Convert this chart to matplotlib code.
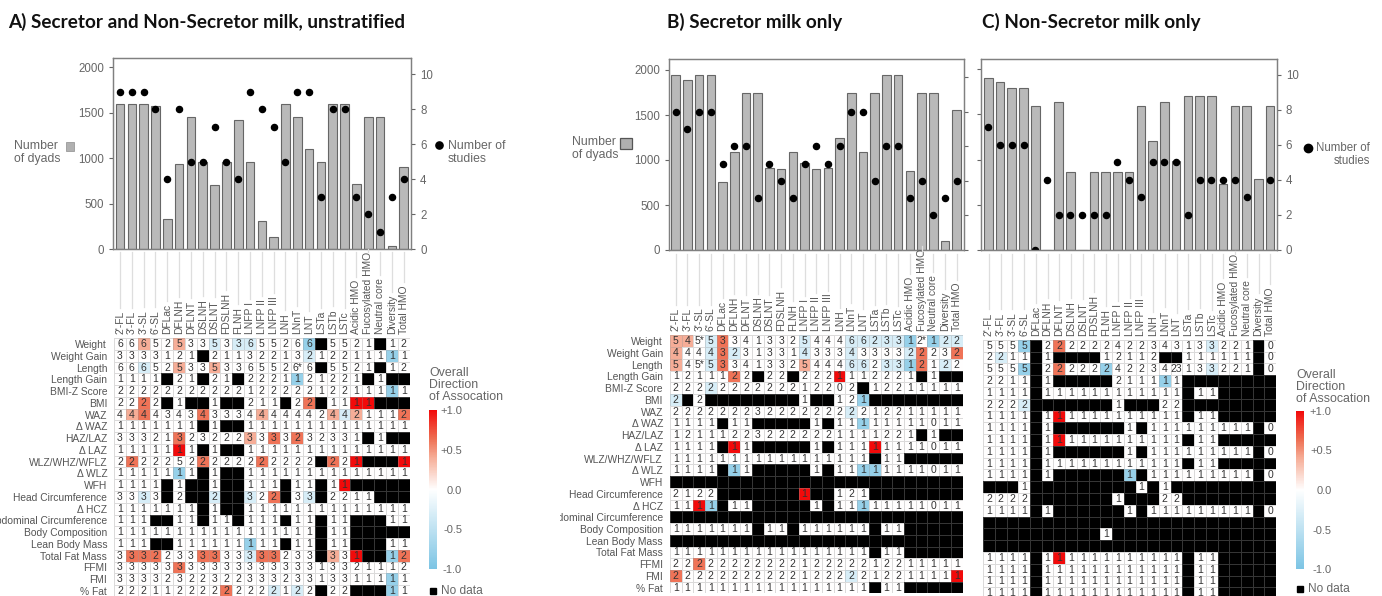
import numpy as np
import matplotlib
matplotlib.use('Agg')
import matplotlib.pyplot as plt
from matplotlib.colors import LinearSegmentedColormap, Normalize
from matplotlib.cm import ScalarMappable
from matplotlib.patches import Rectangle
from matplotlib.transforms import Bbox

plt.rcParams['font.family'] = ['Liberation Sans', 'DejaVu Sans']

HMOS = ["2'-FL", "3'-FL", "3'-SL", "6'-SL", 'DFLac', 'DFLNH', 'DFLNT', 'DSLNH', 'DSLNT',
        'FDSLNH', 'FLNH', 'LNFP I', 'LNFP II', 'LNFP III', 'LNH', 'LNnT', 'LNT', 'LSTa',
        'LSTb', 'LSTc', 'Acidic HMO', 'Fucosylated HMO', 'Neutral core', 'Diversity', 'Total HMO']
OUTCOMES = ['Weight', 'Weight Gain', 'Length', 'Length Gain', 'BMI-Z Score', 'BMI', 'WAZ', 'Δ WAZ',
            'HAZ/LAZ', 'Δ LAZ', 'WLZ/WHZ/WFLZ', 'Δ WLZ', 'WFH', 'Head Circumference', 'Δ HCZ',
            'Abdominal Circumference', 'Body Composition', 'Lean Body Mass', 'Total Fat Mass',
            'FFMI', 'FMI', '% Fat']

DYADS_A = [1600, 1600, 1600, 1571, 330, 934, 1450, 956, 700, 956, 1418, 956, 304, 136, 1600,
           1450, 1099, 963, 1600, 1600, 711, 1450, 1450, 29, 901]
STUDIES_A = [9, 9, 9, 8, 4, 8, 5, 5, 7, 5, 4, 9, 8, 7, 5, 9, 9, 3, 8, 8, 3, 2, 1, 3, 4]
DYADS_B = [1944, 1889, 1944, 1944, 759, 1093, 1741, 1741, 907, 896, 1093, 970, 896, 907, 1241,
           1741, 1093, 1741, 1944, 1944, 878, 1741, 1741, 104, 1559]
STUDIES_B = [8, 7, 8, 8, 5, 6, 6, 3, 5, 4, 3, 5, 6, 5, 6, 8, 8, 4, 6, 6, 3, 4, 2, 3, 4]
DYADS_C = [1908, 1856, 1790, 1790, 1594, 0, 1635, 867, 0, 867, 867, 867, 867, 1594, 1207,
           1635, 985, 1708, 1708, 1708, 727, 1594, 1594, 786, 1594]
STUDIES_C = [7, 6, 6, 6, 0, 4, 2, 2, 2, 2, 2, 5, 4, 3, 5, 5, 5, 2, 4, 4, 4, 4, 3, np.nan, 4]

# number of studies per cell, x = no data
COUNTS_A = [
    "6 6 6 5 2 5 3 3 5 3 3 6 5 5 2 6 6 x 5 5 2 1 x 1 2",
    "3 3 3 3 1 2 1 x 2 1 1 3 2 2 1 3 2 1 2 2 1 1 1 1 1",
    "6 6 6 5 2 5 3 3 5 3 3 6 5 5 2 6* 6 x 5 5 2 1 x 1 2",
    "1 1 1 1 x 2 1 x 2 1 x 2 2 2 1 1 2 1 2 2 1 x 1 x x",
    "2 2 2 2 2 2 2 2 2 2 2 1 2 2 2 2 2 1 2 2 1 1 1 1 1",
    "2 2 2 2 x 1 x x 1 x x 2 1 1 x 2 2 x 1 1 1 1 x x x",
    "4 4 4 4 3 4 3 4 3 3 3 4 4 4 4 4 4 2 4 4 2 1 1 1 2",
    "1 1 1 1 1 1 1 x 1 x x 1 1 1 1 1 1 1 1 1 1 1 1 1 1",
    "3 3 3 2 1 3 2 3 2 2 2 3 3 3 3 2 3 2 3 3 1 x 1 x x",
    "1 1 1 1 1 1 1 x 1 x x 1 1 1 1 1 1 1 1 1 1 1 1 1 1",
    "2 2 2 2 2 5 2 2 2 2 2 2 2 2 2 2 2 x 2 2 1 x x x 1",
    "1 1 1 1 1 1 1 x 1 x x 1 1 1 1 1 1 1 1 1 1 1 1 1 1",
    "1 1 1 1 x 1 x x 1 x x 1 1 1 x 1 1 x 1 1 x x x x x",
    "3 3 3 3 x 2 x x 2 x x 3 2 2 x 3 3 x 2 2 1 1 x x x",
    "1 1 1 1 1 1 1 x 1 x x 1 1 1 1 1 1 1 1 1 1 1 1 1 1",
    "1 1 1 x x 1 1 x 1 1 x 1 1 1 x 1 1 x 1 1 x x x 1 1",
    "1 1 1 1 1 1 1 1 1 1 1 1 1 1 1 1 1 x 1 1 x x x x x",
    "1 1 1 x x 1 1 1 1 1 1 1 1 1 x 1 1 x 1 1 x x x 1 1",
    "3 3 3 2 2 3 3 3 3 3 3 3 3 3 2 3 3 x 3 3 1 x x 1 2",
    "3 3 3 3 3 3 3 3 3 3 3 3 3 3 3 3 3 1 3 3 2 1 1 1 2",
    "3 3 3 3 2 3 2 2 3 2 2 3 3 3 2 3 3 1 3 3 1 1 1 1 1",
    "2 2 2 1 1 2 2 2 2 2 2 2 2 2 1 2 2 x 2 2 x x x 1 1",
]
COUNTS_B = [
    "5 4 5* 5 3 3 4 1 3 3 2 5 4 4 4 6 6 2 3 3 1 2* 1 2 2",
    "4 4 4 4 3 2 3 1 3 3 1 4 3 3 3 4 3 3 3 3 2 2 2 3 2",
    "5 4 5* 5 3 3 4 1 3 3 2 5 4 4 4 6 6 2 3 3 1 2 1 2 2",
    "1 2 1 1 1 2 2 x 2 2 x 2 2 2 1 1 1 2 2 2 1 x 1 x x",
    "2 2 2 2 2 2 2 2 2 2 2 1 2 2 0 2 x 1 2 2 1 1 1 1 1",
    "2 x 2 x x x x x x x x 1 x x 1 2 1 x x x x x x x x",
    "2 2 2 2 2 2 2 3 2 2 2 2 2 2 2 2 2 1 2 2 1 1 1 1 1",
    "1 1 1 1 x 1 1 x x x x x 1 x 1 1 1 1 1 1 1 1 0 1 1",
    "1 2 1 1 1 2 2 3 2 2 2 2 2 2 1 1 1 1 2 2 1 x 1 x x",
    "1 1 1 1 x 1 1 x x x x x 1 x 1 1 1 1 1 1 1 1 0 1 1",
    "1 1 1 1 1 1 1 1 1 1 1 1 1 1 1 1 1 x 1 1 x x x x x",
    "1 1 1 1 x 1 1 x x x x x 1 x 1 1 1 1 1 1 1 1 0 1 1",
    "x x x x x x x x x x x x x x x x x x x x x x x x x",
    "2 1 2 2 x x x x x x x 1 x x 1 2 1 x x x x x x x x",
    "1 1 1 1 x 1 1 x x x x x 1 x 1 1 1 1 1 1 1 1 0 1 1",
    "x x x x x x x x x x x x x x x x x x x x x x x x x",
    "1 1 1 1 1 1 1 x 1 1 x 1 1 1 1 1 1 x 1 1 x x x x x",
    "x x x x x x x x x x x x x x x x x x x x x x x x x",
    "1 1 1 1 1 1 1 1 1 1 1 1 1 1 1 1 1 x 1 1 x x x x x",
    "2 2 2 2 2 2 2 2 2 2 2 1 2 2 2 2 2 1 2 2 1 1 1 1 1",
    "2 2 2 2 2 2 2 2 2 2 2 1 2 2 2 2 2 1 2 2 1 1 1 1 1",
    "1 1 1 1 1 1 1 1 1 1 1 1 1 1 1 1 1 x 1 1 x x x x x",
]
COUNTS_C = [
    "5 5 5 5 x 2 2 2 2 2 2 4 2 2 3 4 3 1 3 3 2 2 1 x 0",
    "2 2 1 1 x 1 x x x x 1 2 1 1 2 x x 1 1 1 1 1 1 x 0",
    "5 5 5 5 x 2 2 2 2 2 2 4 2 2 3 4 23 1 3 3 2 2 1 x 0",
    "2 2 1 1 x 1 x x x x x 2 1 1 1 1 1 x x x x x x x x",
    "1 1 1 1 x 1 1 1 1 1 1 1 1 1 1 1 1 x 1 1 x x x x x",
    "2 2 2 2 x x x x x x x 1 x x x 2 2 x x x x x x x x",
    "1 1 1 1 x 1 1 1 1 1 1 1 1 1 1 1 1 x 1 1 x x x x x",
    "1 1 1 1 x 1 x x x x x x 1 x 1 1 1 1 1 1 1 1 1 x 0",
    "1 1 1 1 x 1 1 1 1 1 1 1 1 1 1 1 1 x 1 1 x x x x x",
    "1 1 1 1 x 1 x x x x x x 1 x 1 1 1 1 1 1 1 1 1 x 0",
    "1 1 1 1 x 1 1 1 1 1 1 1 1 1 1 1 1 x 1 1 x x x x x",
    "1 1 1 1 x 1 x x x x x x 1 x 1 1 1 1 1 1 1 1 1 x 0",
    "x x x 1 x x x x x x x x x 1 x 1 x x x x x x x x x",
    "2 2 2 2 x x x x x x x 1 x x x 2 2 x x x x x x x x",
    "1 1 1 1 x 1 x x x x x x 1 x 1 1 1 1 1 1 1 1 1 x 0",
    "x x x x x x x x x x x x x x x x x x x x x x x x x",
    "x x x x x x x x x x 1 x x x x x x x x x x x x x x",
    "x x x x x x x x x x x x x x x x x x x x x x x x x",
    "1 1 1 1 x 1 1 1 1 1 1 1 1 1 1 1 1 x 1 1 x x x x x",
    "1 1 1 1 x 1 1 1 1 1 1 1 1 1 1 1 1 x 1 1 x x x x x",
    "1 1 1 1 x 1 1 1 1 1 1 1 1 1 1 1 1 x 1 1 x x x x x",
    "1 1 1 1 x 1 1 1 1 1 1 1 1 1 1 1 1 x 1 1 x x x x x",
]

# direction of association per cell, one letter per column
LEVELS = {'.': 0.0, 'p': 0.4, 'o': 0.62, 'r': 1.0, 'l': -0.3, 'b': -0.8}
NONE = "..... ..... ..... ..... ....."
DIRECTION_A = [
    "..p.. p..l. ll... .b... .....",
    "..... ..... ..... .l... ...b.",
    "..l.. p..p. ..... ..... .....",
    "..... ..... ..... b.... .....",
    "..... ..... ..... ..... ...b.",
    "..o.. ..... ..... .o... rr...",
    ".po.. ..o.. ..p.. ...pl p...o",
    NONE,
    "..... o.... .p.o. o.... .....",
    "..... r.... ..... ..... .....",
    ".o... ..o.. ..o.. ...o. r...r",
    "..... b.... ..... ..... .....",
    "..... ..... ..... ....r .....",
    "..l.. ...l. .l.o. .l... .....",
    NONE,
    NONE,
    NONE,
    "..... ..... .b... ..... .....",
    ".ooo. ..oo. .loo. ...p. r..bo",
    "..... o.... ..... ..... .....",
    "..... ..... ..... ..... ...b.",
    "..... ....o ...l. l.... ...b.",
]
DIRECTION_B = [
    "pp.lo ..... .l... lllll b.bll",
    "p..lo l.... .l... l.... lo..o",
    "p..lo ..... .p... ll.ll bo.l.",
    "..... o.... ....r ..... .....",
    "...l. ..... ..... ..... .....",
    "l.... ..... ..... .b... .....",
    "..... ..... ..... l.... .....",
    "..... ..... ..... .b... .....",
    NONE,
    "..... r.... ..... ..r.. .....",
    NONE,
    "..... b.... ..... .bb.. .....",
    NONE,
    "..... ..... .r... ..... .....",
    "..rb. ..... ..... .b... .....",
    NONE,
    NONE,
    NONE,
    NONE,
    "..o.. ..... ..... ..... .....",
    "o.... ..... ..... l.... ....r",
    NONE,
]
DIRECTION_C = [
    "...b. .o... ..... ....l .....",
    ".l... ..... ..... ..... .....",
    "...b. .o... b.... ....l .....",
    "..... ..... ..... b.... .....",
    NONE,
    "...l. ..... ..... ..... .....",
    "..... .r... ..... ..... .....",
    NONE,
    "..... .r... ..... ..... .....",
    NONE,
    NONE,
    "..... ..... ..b.. ..... .....",
    NONE,
    NONE,
    NONE,
    NONE,
    NONE,
    NONE,
    "..... .r... ..... ..... .....",
    NONE,
    NONE,
    NONE,
]

W, H = 1382, 596
GREY = '#666666'
cmap = LinearSegmentedColormap.from_list('assoc', [
    (0.0, '#7cc4e4'), (0.5, '#ffffff'), (0.7, '#f6ae98'), (0.82, '#ee6f52'), (1.0, '#f20a0a')])
cmap.set_bad('black')
norm = Normalize(-1, 1)


def pixel_axes(fig, left, top, right, bottom, **kw):
    return fig.add_axes([left / W, 1 - bottom / H, (right - left) / W, (bottom - top) / H], **kw)


def draw_bars(fig, box, first, step, y2000, y10, dyads, studies, show_left, show_right):
    left, top, right, bottom = box
    ax = pixel_axes(fig, left, top, right, bottom)
    ax.bar(np.arange(25), dyads, width=0.73, color='#b9b9b9', edgecolor='#666666', linewidth=0.8)
    ax.set_xlim((left - first) / step, (right - first) / step)
    ax.set_ylim(0, (bottom - top) / (bottom - y2000) * 2000)
    ax.set_xticks([])
    ax.set_yticks([0, 500, 1000, 1500, 2000])
    ax.tick_params(axis='y', colors=GREY, labelsize=8.3, length=3, width=0.8, labelleft=show_left)
    ax2 = ax.twinx()
    ax2.plot(np.arange(25), studies, 'o', color='black', markersize=4.4, linestyle='none')
    ax2.set_ylim(0, (bottom - top) / (bottom - y10) * 10)
    ax2.set_yticks([0, 2, 4, 6, 8, 10])
    ax2.tick_params(axis='y', colors=GREY, labelsize=8.3, length=3, width=0.8, labelright=show_right)
    for a in (ax, ax2):
        for s in a.spines.values():
            s.set_color('#808080')
            s.set_linewidth(0.9)


def draw_heatmap(fig, first, step, row0, rowh, counts, direction, labels_left, clip_left=None):
    hm = pixel_axes(fig, first - step / 2, row0 - rowh / 2, first + step * 24.5, row0 + rowh * 21.5)
    cells = [row.split() for row in counts]
    vals = np.array([[LEVELS[c] for c in row.replace(' ', '')] for row in direction])
    mask = np.array([[c == 'x' for c in row] for row in cells])
    hm.pcolormesh(np.arange(26) - 0.5, np.arange(23) - 0.5, np.ma.array(vals, mask=mask),
                  cmap=cmap, norm=norm, edgecolors=(0.6, 0.6, 0.6, 0.35), linewidth=0.6)
    hm.set_xlim(-0.5, 24.5)
    hm.set_ylim(21.5, -0.5)
    for r, row in enumerate(cells):
        for c, txt in enumerate(row):
            if txt != 'x':
                hm.text(c, r, txt, ha='center', va='center', fontsize=7.5, color='#333333')
    hm.xaxis.tick_top()
    hm.set_xticks(np.arange(25), HMOS, rotation=90, fontsize=7.4, color='#555555')
    hm.tick_params(axis='x', length=0, pad=3)
    if labels_left:
        hm.set_yticks(np.arange(22), OUTCOMES, fontsize=7.4, color='#555555')
        hm.tick_params(axis='y', length=0, pad=5)
        if clip_left is not None:
            for t in hm.get_yticklabels():
                t.set_clip_box(Bbox([[clip_left, 0], [W, H]]))
                t.set_clip_on(True)
    else:
        hm.set_yticks([])
    for s in hm.spines.values():
        s.set_visible(False)
    return hm


def draw_leaders(fig, hm, overlay, first, step, y_start):
    fig.canvas.draw()
    renderer = fig.canvas.get_renderer()
    for i, t in enumerate(hm.get_xticklabels()):
        ext = t.get_window_extent(renderer)
        x = first + step * i
        overlay.plot([x, x], [y_start, H - ext.y1 - 3], color='#dedede', linewidth=0.9)


def draw_colorbar(fig, overlay, left, top, bottom, title_y, nodata_y, pad):
    cax = pixel_axes(fig, left, top, left + 8, bottom)
    cb = fig.colorbar(ScalarMappable(norm=norm, cmap=cmap), cax=cax)
    cb.set_ticks([-1, -0.5, 0, 0.5, 1])
    cb.set_ticklabels(['-1.0', '-0.5', '0.0', '+0.5', '+1.0'])
    cb.outline.set_visible(False)
    cax.tick_params(length=0, pad=pad, labelsize=8, colors=GREY)
    for t in cax.get_yticklabels():
        t.set_ha('right')
    overlay.text(left, title_y, 'Overall\nDirection\nof Assocation', fontsize=8.9, color=GREY,
                 va='center', ha='left', linespacing=1.0)
    overlay.add_patch(Rectangle((left + 1, nodata_y - 3), 6, 6, color='black'))
    overlay.text(left + 12, nodata_y, 'No data', fontsize=8.6, color=GREY, va='center')


fig = plt.figure(figsize=(W / 100, H / 100), dpi=100)

ov = fig.add_axes([0, 0, 1, 1], zorder=5)
ov.set_xlim(0, W)
ov.set_ylim(H, 0)
ov.axis('off')

draw_bars(fig, (113, 58, 411, 249), 120, 11.82, 67.3, 74.3, DYADS_A, STUDIES_A, True, True)
draw_bars(fig, (669, 59.3, 964, 250), 675.7, 11.71, 70, 77.1, DYADS_B, STUDIES_B, True, False)
draw_bars(fig, (981, 59.3, 1276.7, 250), 988.3, 11.74, 69.3, 74.7, DYADS_C, STUDIES_C, False, True)

hm_a = draw_heatmap(fig, 120, 11.82, 344, 11.76, COUNTS_A, DIRECTION_A, True)
hm_b = draw_heatmap(fig, 675.7, 11.71, 341.3, 11.73, COUNTS_B, DIRECTION_B, True, clip_left=560)
hm_c = draw_heatmap(fig, 989, 11.72, 345.7, 11.79, COUNTS_C, DIRECTION_C, False)

draw_leaders(fig, hm_a, ov, 120, 11.82, 252)
draw_leaders(fig, hm_b, ov, 675.7, 11.71, 254)
draw_leaders(fig, hm_c, ov, 989, 11.72, 254)

draw_colorbar(fig, ov, 429, 410, 569, 385, 591, 18)
draw_colorbar(fig, ov, 1296, 411, 569, 386.5, 589, 20)

title_font = dict(family='Lato', weight='bold', fontsize=13.6, color='#111111', va='center')
ov.text(8, 22, 'A) Secretor and Non-Secretor milk, unstratified', **title_font)
ov.text(667, 22, 'B) Secretor milk only', **title_font)
ov.text(982, 22, 'C) Non-Secretor milk only', **title_font)

# side legends
ov.text(14, 152.5, 'Number\nof dyads', fontsize=8.8, color=GREY, va='center', linespacing=1.2)
ov.add_patch(Rectangle((66, 142), 8, 9, facecolor='#b0b0b0', edgecolor='#9a9a9a', linewidth=0.6))
ov.plot([439], [145], 'o', color='black', markersize=5.2)
ov.text(448, 152.5, 'Number of\nstudies', fontsize=8.8, color=GREY, va='center', linespacing=1.2)

ov.text(572, 148.7, 'Number\nof dyads', fontsize=8.8, color=GREY, va='center', linespacing=1.05)
ov.add_patch(Rectangle((620.5, 138), 12, 11, facecolor='#b0b0b0', edgecolor='#555555', linewidth=0.9))

ov.plot([1307.7], [147.7], 'o', color='black', markersize=6)
ov.text(1370, 154.5, 'Number of\nstudies', fontsize=8.3, color=GREY, va='center', ha='right', linespacing=1.15)

fig.savefig('out.png', dpi=100)
